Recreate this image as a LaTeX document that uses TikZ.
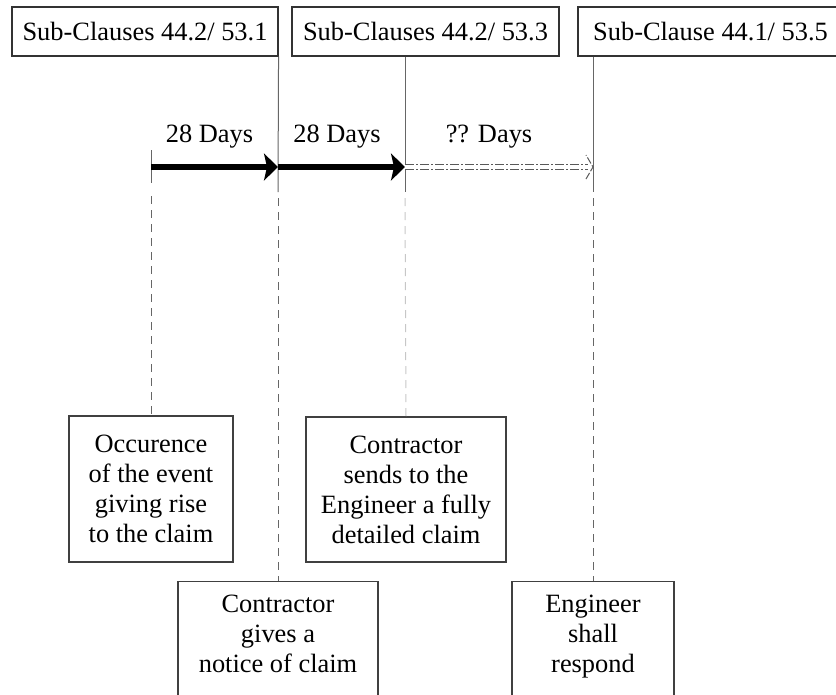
\documentclass[tikz,border=0pt]{standalone}
\usepackage{fontspec}
\setmainfont{Liberation Serif}
\usetikzlibrary{arrows.meta}
\begin{document}
\begin{tikzpicture}[x=1pt,y=-1pt,
  txt/.style={font=\fontsize{26.4pt}{30pt}\selectfont, text=black},
  clausebox/.style={txt, draw=black!80, line width=1.1pt, minimum height=49pt, inner sep=0pt},
  eventbox/.style={txt, draw=black!75, line width=1.1pt, align=center, inner xsep=4pt},
  guide/.style={draw=black!60, line width=1pt},
  guidedash/.style={guide, dash pattern=on 8pt off 6pt},
  faintdash/.style={draw=black!22, line width=1pt, dash pattern=on 8pt off 6pt},
  periodarrow/.style={line width=6pt, -{Stealth[length=14pt,width=27pt,inset=3pt]}},
  openline/.style={draw=black!65, line width=0.9pt, double=white, double distance=4.5pt,
                   dash pattern=on 9pt off 2pt on 2pt off 2pt},
  openhead/.style={draw=black!65, line width=1pt, dash pattern=on 7pt off 2pt}]
\useasboundingbox (0,0) rectangle (836,694);
\clip (0,0) rectangle (836,694);

% clause headers
\node[clausebox, minimum width=266pt] (h1) at (145,31.5) {Sub-Clauses 44.2/ 53.1};
\node[clausebox, minimum width=267pt] (h2) at (425.5,31.5) {Sub-Clauses 44.2/ 53.3};
\node[clausebox, minimum width=265pt] (h3) at (710.5,31.5) {Sub-Clause 44.1/ 53.5};

% event boxes
\node[eventbox, minimum width=164pt, minimum height=146pt] (o1) at (151,489)
  {Occurence\\of the event\\giving rise\\to the claim};
\node[eventbox, minimum width=200pt, minimum height=145pt] (s1) at (406,489.5)
  {Contractor\\sends to the\\Engineer a fully\\detailed claim};
\node[eventbox, minimum width=200pt, anchor=north, inner ysep=13pt, text depth=30pt] (c2) at (278,581)
  {Contractor\\gives a\\notice of claim};
\node[eventbox, minimum width=162pt, anchor=north, inner ysep=13pt, text depth=30pt] (e1) at (593,581)
  {Engineer\\shall\\respond};

% time axis points
\coordinate (t0) at (151,150);
\coordinate (t0b) at (151,183);
\coordinate (a0) at (151,167);
\coordinate (a1) at (278,167);
\coordinate (a2) at (405,167);
\coordinate (a3) at (593,167);
\coordinate (a3b) at (588,167);
\coordinate (g1) at (278,192);
\coordinate (g2) at (405,192);
\coordinate (g3) at (593,192);
\coordinate (d0) at (151,196);
\coordinate (d1) at (278,198);
\coordinate (d2) at (405,198);
\coordinate (d3) at (593,198);

% solid guides from the headers
\draw[guide] (h1.south east) -- (g1);
\draw[guide] (h2.south -| a2) -- (g2);
\draw[guide] (h3.south -| a3) -- (g3);
\draw[guide] (t0) -- (t0b);

% dashed guides down to the events
\draw[guidedash] (d0) -- (o1.north);
\draw[guidedash] (d1) -- (c2.north);
\draw[faintdash] (d2) -- (s1.north);
\draw[guidedash] (d3) -- (e1.north);

% periods
\draw[periodarrow] (a0) -- (a1);
\draw[periodarrow] (a1) -- (a2);
\draw[openline] (a2) -- (a3b);
\draw[openhead] ([xshift=-7pt,yshift=-12pt]a3) -- (a3) -- ([xshift=-7pt,yshift=12pt]a3);

% period labels
\node[txt] (l1) at (209.5,137) {28 Days};
\node[txt] (l2) at (337,137) {28 Days};
\node[txt] (l3) at (489,137) {?? Days};
\end{tikzpicture}
\end{document}
